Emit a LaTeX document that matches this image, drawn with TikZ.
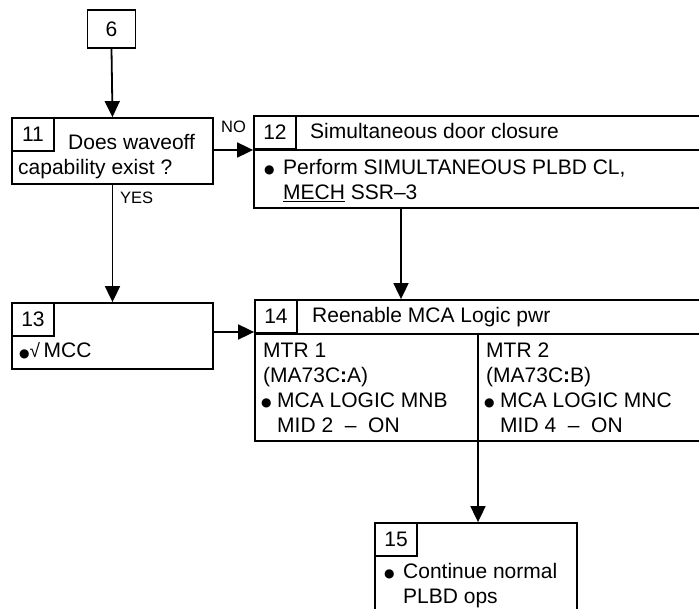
\documentclass[tikz,border=0pt]{standalone}
\usepackage{fontspec}
\setmainfont{Liberation Sans}
\newfontfamily\symfont{DejaVu Sans}
\usetikzlibrary{arrows.meta}
\newcommand{\bul}{{\symfont\fontsize{12}{12}\selectfont ●}}
\tikzset{
  box/.style={draw, line width=1.8pt, inner sep=0pt, rectangle},
  numcell/.style={box, minimum width=42pt, minimum height=33pt, anchor=north west, font=\fontsize{21}{24}\selectfont},
  txt/.style={anchor=base west, inner sep=0pt, font=\fontsize{21}{24}\selectfont},
  lbl/.style={anchor=base west, inner sep=0pt, font=\fontsize{16.5}{18}\selectfont},
  conn/.style={line width=1.8pt, -{Triangle[length=16pt,width=15pt]}},
  rule/.style={line width=1.8pt}
}
\begin{document}
\begin{tikzpicture}[x=1pt,y=-1pt]
\useasboundingbox (0,0) rectangle (699,609);
\clip (0,0) rectangle (699,609);
% boxes
\node[box, minimum width=48pt, minimum height=38pt, font=\fontsize{21}{24}\selectfont] (b6) at (111.5,29) {6};
\node[box, minimum width=201pt, minimum height=66pt] (b11) at (112.5,151) {};
\node[box, minimum width=466pt, minimum height=92pt] (b12) at (487,162) {};
\node[box, minimum width=201pt, minimum height=66pt] (b13) at (112.5,336) {};
\node[box, minimum width=465pt, minimum height=141pt] (b14) at (487.5,370.5) {};
\node[box, minimum width=202pt, minimum height=117pt] (b15) at (476,581.5) {};
% number cells
\node[numcell] (n11) at (b11.north west) {11};
\node[numcell] (n12) at (b12.north west) {12};
\node[numcell] (n13) at (b13.north west) {13};
\node[numcell] (n14) at (b14.north west) {14};
\node[numcell] (n15) at (b15.north west) {15};
% header rules and divider
\draw[rule] (n12.south west) -- (n12.south west -| b12.east);
\draw[rule] (n14.south west) -- (n14.south west -| b14.east);
\coordinate (div) at (478,0);
\draw[rule] (n14.south -| div) -- (b14.south -| div);
% texts box 11
\node[txt] (t11a) at (68,150) {Does waveoff};
\node[txt] (t11b) at (18,175) {capability exist ?};
% box 12
\node[txt] (t12h) at (310,139) {Simultaneous door closure};
\node[txt] (t12b) at (264,174) {\bul};
\node[txt] (t12c) at (283,175) {Perform SIMULTANEOUS PLBD CL,};
\node[txt] (t12d) at (283,200) {\underline{MECH} SSR–3};
% box 13
\node[txt] (t13a) at (19,358) {\bul{\fontsize{19}{19}\selectfont√}\,MCC};
% box 14
\node[txt] (t14h) at (312,323) {Reenable MCA Logic pwr};
\node[txt] (t14a) at (263,358) {MTR 1};
\node[txt] (t14b) at (263,383) {(MA73C\textbf{:}A)};
\node[txt] (t14c) at (261,407) {\bul};
\node[txt] (t14d) at (277,408) {MCA LOGIC MNB};
\node[txt] (t14e) at (277,432) {MID 2 \ – \ ON};
\node[txt] (t14f) at (486,358) {MTR 2};
\node[txt] (t14g) at (486,383) {(MA73C\textbf{:}B)};
\node[txt] (t14i) at (484,407) {\bul};
\node[txt] (t14j) at (500,408) {MCA LOGIC MNC};
\node[txt] (t14k) at (500,432) {MID 4 \ – \ ON};
% box 15
\node[txt] (t15a) at (384,577) {\bul};
\node[txt] (t15b) at (403,578) {Continue normal};
\node[txt] (t15c) at (403,603) {PLBD ops};
% labels
\node[lbl] (no) at (221,133) {NO};
\node[lbl] (yes) at (120,204) {YES};
% connectors
\draw[conn] (b6.south) -- (b11.north);
\draw[conn] (b11.south) -- (b13.north);
\draw[conn] ([yshift=1pt]b11.east) -- ([yshift=1pt]b11.east -| b12.west);
\coordinate (c12) at (401,0);
\draw[conn] (b12.south -| c12) -- (b14.north -| c12);
\draw[conn] ([yshift=4pt]b13.east) -- ([yshift=4pt]b13.east -| b14.west);
\draw[conn] (b14.south -| div) -- (b15.north -| div);
\end{tikzpicture}
\end{document}
